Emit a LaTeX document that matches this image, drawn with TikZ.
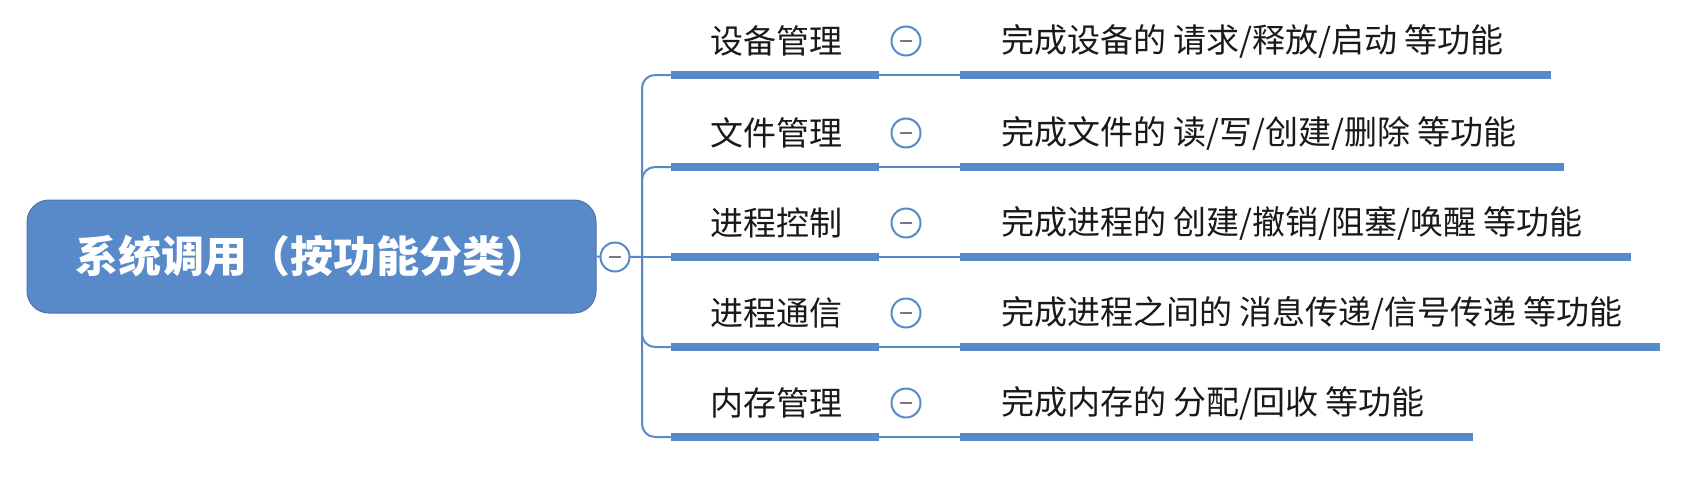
\documentclass[tikz,border=0pt]{standalone}
\usepackage{fontspec}
\setmainfont{Noto Sans CJK SC}
\newfontfamily\cjk{Noto Sans CJK SC}
\definecolor{mblue}{RGB}{88,137,201}
\definecolor{mgray}{RGB}{120,120,130}
\begin{document}
\begin{tikzpicture}[x=1pt,y=-1pt,
  rootbox/.style={draw=mblue!85!black,line width=1pt,fill=mblue,rounded corners=22pt,minimum width=569pt,minimum height=113pt,text=white,font=\cjk\bfseries\fontsize{43}{50}\selectfont,inner sep=0pt},
  lbl/.style={anchor=west,inner sep=0pt,font=\cjk\fontsize{33}{40}\selectfont,text=black!90},
  desc/.style={anchor=west,inner sep=0pt,font=\cjk\fontsize{33}{40}\selectfont,text=black!90},
  foldc/.style={circle,draw=mblue,line width=2pt,fill=white,minimum size=29pt,inner sep=0pt},
  thick/.style={draw=mblue,line width=8pt},
  thin/.style={draw=mblue,line width=2pt},
  conn/.style={draw=mblue,line width=2pt,rounded corners=13pt}]
\useasboundingbox (0,0) rectangle (1692,501);
\fill[white] (0,0) rectangle (1692,501);

\node[rootbox] (R) at (311.5,256.5) {系统调用（按功能分类）};
\coordinate (jx) at (642,257);

\foreach \i/\y/\e/\lab/\d in {
  1/75/1551/{设备管理}/{完成设备的 请求/释放/启动 等功能},
  2/167/1564/{文件管理}/{完成文件的 读/写/创建/删除 等功能},
  3/257/1631/{进程控制}/{完成进程的 创建/撤销/阻塞/唤醒 等功能},
  4/347/1660/{进程通信}/{完成进程之间的 消息传递/信号传递 等功能},
  5/437/1473/{内存管理}/{完成内存的 分配/回收 等功能}}{
  \coordinate (a\i) at (671,\y);
  \coordinate (b\i) at (879,\y);
  \coordinate (c\i) at (960,\y);
  \coordinate (d\i) at (\e,\y);
  \node[lbl] (L\i) at (710,\y-34) {\lab};
  \node[desc] (D\i) at (1001,\y-34) {\d};
  \path[thin] (b\i) -- (c\i);
  \path[thick] (a\i) -- (b\i);
  \path[thick] (c\i) -- (d\i);
  \node[foldc] (C\i) at (906,\y-34) {};
  \draw[mgray,line width=1.6pt] ([xshift=-6pt]C\i.center) -- ([xshift=6pt]C\i.center);
}

\draw[conn] (jx) |- (a1);
\draw[conn] (jx) |- (a2);
\draw[conn] (jx) -- (a3);
\draw[conn] (jx) |- (a4);
\draw[conn] (jx) |- (a5);
\draw[thin] (R.east) -- (jx);
\node[foldc] (RC) at (615,257) {};
\draw[mgray,line width=1.6pt] ([xshift=-6pt]RC.center) -- ([xshift=6pt]RC.center);
\end{tikzpicture}
\end{document}
